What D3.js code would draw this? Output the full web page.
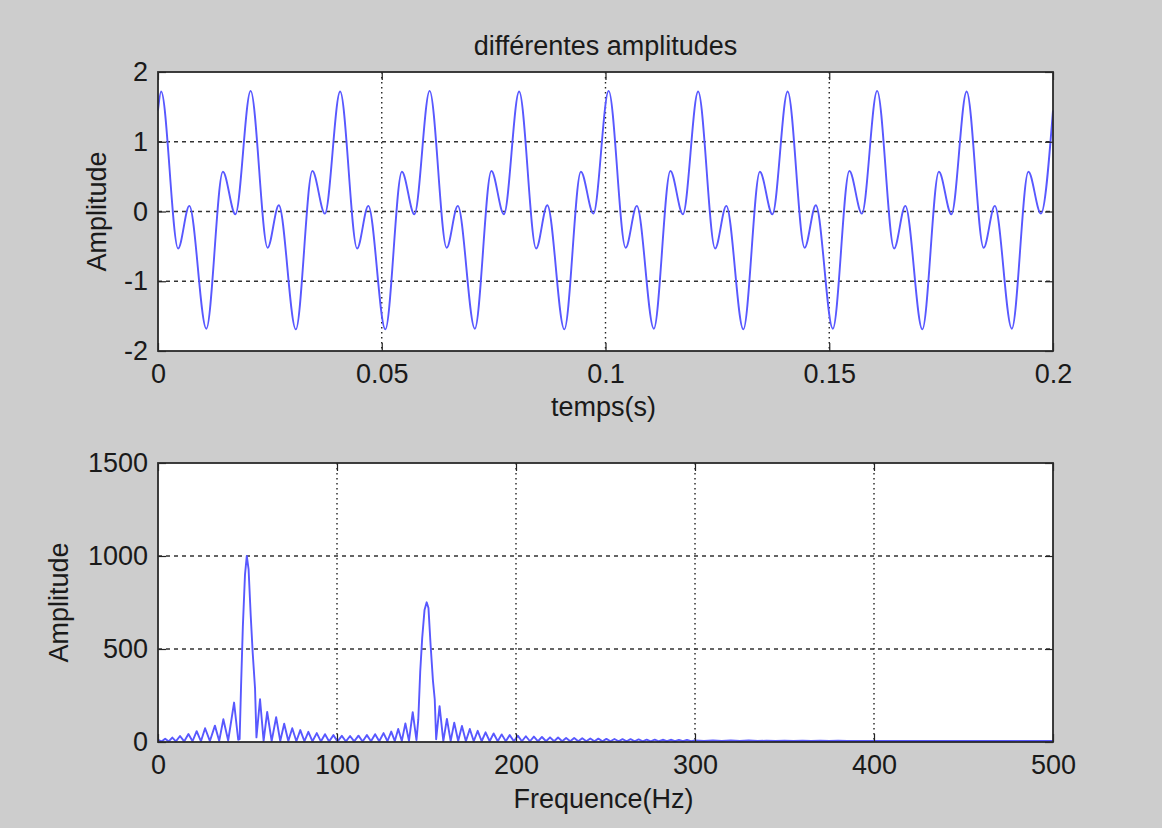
<!DOCTYPE html>
<html>
<head>
<meta charset="utf-8">
<script src="https://cdn.jsdelivr.net/npm/d3@7"></script>
<style>
  html, body { margin: 0; padding: 0; background: #cdcdcd; }
  svg text { font-family: "Liberation Sans", Arial, sans-serif; fill: #1a1a1a; }
</style>
</head>
<body>
<div id="example"></div>
<script>
// signal: local extrema (s, amplitude)
var timeS = [0,
    0.0007, 0.0045, 0.0070, 0.0108, 0.0145, 0.0173,
    0.0207, 0.0245, 0.0270, 0.0308, 0.0345, 0.0373,
    0.0407, 0.0445, 0.0470, 0.0508, 0.0545, 0.0573,
    0.0607, 0.0645, 0.0670, 0.0708, 0.0745, 0.0773,
    0.0807, 0.0845, 0.0870, 0.0908, 0.0945, 0.0973,
    0.1007, 0.1045, 0.1070, 0.1108, 0.1145, 0.1173,
    0.1207, 0.1245, 0.1270, 0.1308, 0.1345, 0.1373,
    0.1407, 0.1445, 0.1470, 0.1508, 0.1545, 0.1573,
    0.1607, 0.1645, 0.1670, 0.1708, 0.1745, 0.1773,
    0.1807, 0.1845, 0.1870, 0.1908, 0.1945, 0.1973,
    0.2];
var signalAmp = [1.45,
    1.72, -0.53, 0.08, -1.68, 0.57, -0.04,
    1.73, -0.52, 0.09, -1.69, 0.58, -0.03,
    1.72, -0.53, 0.08, -1.69, 0.57, -0.04,
    1.73, -0.52, 0.08, -1.68, 0.58, -0.04,
    1.72, -0.53, 0.09, -1.69, 0.57, -0.03,
    1.73, -0.52, 0.08, -1.68, 0.58, -0.04,
    1.72, -0.53, 0.08, -1.69, 0.57, -0.04,
    1.72, -0.52, 0.09, -1.68, 0.58, -0.03,
    1.73, -0.53, 0.08, -1.69, 0.57, -0.04,
    1.72, -0.52, 0.08, -1.68, 0.57, -0.03,
    1.45];

// spectrum: lobe tops and troughs (Hz, |X|)
var specHz = [0, 2, 4, 6, 8, 10, 12.3, 14.6, 17, 19.3, 21.6, 24, 26.3, 29, 31.8, 34.2, 36.5, 39.2, 42.5, 44.8,
    45.6, 46.4, 47.4, 48.6, 49.6, 50.6, 51.8, 52.9, 54.2, 55,
    57, 59, 61, 63.5, 66, 68.3, 70.5, 72.8, 75, 77.3, 79.5, 81.8, 84, 86.3, 88.7, 91, 93.3, 95.6, 98, 100.3,
    102.7, 105, 107.3, 109.6, 112, 114.3, 116.7, 119, 121.3, 123.6, 126, 128.2, 130.3, 132.3, 134.2, 136.2, 138.2, 140.2, 142.3, 144.4,
    145.4, 146.5, 147.6, 148.9, 150.1, 151.1, 152.3, 153.6, 154.6, 155.4,
    157.3, 159.4, 161.4, 163.5, 165.5, 167.7, 169.8, 172, 174.2, 176.4, 178.6, 180.8, 183, 185.3, 187.5, 189.8, 192, 194.3, 196.5, 198.8,
    201, 203.3, 205.5, 207.8, 210, 212.3, 214.5, 216.8, 219, 221.3, 223.5, 225.8, 228, 230.3, 232.5, 234.8, 237, 239.3, 241.5, 243.8,
    246, 248.3, 250.5, 252.8, 255, 257.3, 259.5, 261.8, 264, 266.3, 268.5, 270.8, 273, 275.3, 277.5, 279.8, 282, 284.3, 286.5, 288.8,
    291, 293.3, 295.5, 297.8,
    300, 305, 310, 315, 320, 325, 330, 335, 340, 345, 350, 355, 360, 365, 370, 375, 380, 385, 390, 395,
    400, 405, 410, 415, 420, 425, 430, 435, 440, 445, 450, 455, 460, 465, 470, 475, 480, 485, 490, 495, 500];
var specAmp = [12, 3, 18, 3, 24, 3, 32, 3, 43, 4, 58, 4, 74, 5, 88, 6, 122, 8, 212, 12,
    15, 300, 620, 900, 1000, 930, 680, 480, 290, 25,
    230, 6, 162, 5, 133, 5, 98, 5, 74, 4, 64, 4, 55, 4, 48, 3, 42, 3, 37, 3,
    33, 3, 32, 3, 34, 3, 37, 4, 42, 4, 48, 4, 56, 5, 70, 5, 100, 6, 160, 10,
    120, 380, 560, 710, 751, 720, 520, 330, 230, 15,
    193, 5, 124, 5, 104, 5, 86, 4, 70, 4, 60, 4, 52, 4, 46, 4, 41, 4, 37, 4,
    34, 4, 31, 4, 29, 4, 27, 4, 25, 4, 24, 4, 22, 4, 21, 4, 20, 4, 19, 4,
    18, 4, 17, 4, 16, 4, 15, 4, 15, 4, 14, 4, 13, 4, 13, 4, 12, 4, 12, 4,
    11, 4, 11, 5,
    9, 5, 8, 5, 8, 5, 8, 5, 7, 5, 7, 5, 7, 5, 7, 5, 7, 5, 6, 5,
    6, 5, 6, 5, 6, 5, 6, 5, 6, 5, 6, 5, 6, 5, 6, 5, 6, 5, 6, 5, 6];

var timeTicks = [0, 0.05, 0.1, 0.15, 0.2];
var ampTicks = [-2, -1, 0, 1, 2];
var freqTicks = [0, 100, 200, 300, 400, 500];
var magTicks = [0, 500, 1000, 1500];

(function () {

    var width = 1162,
        height = 828,
        left = 158,
        right = 1053,
        plain = function (d) { return String(d); };

    var svg = d3.select("#example").append("svg")
        .attr("width", width)
        .attr("height", height);

    svg.append("rect")
        .attr("width", width).attr("height", height)
        .style("fill", "#cdcdcd");

    function panel(cfg) {
        var x = d3.scaleLinear().domain(cfg.xDomain).range([left, right]),
            y = d3.scaleLinear().domain(cfg.yDomain).range([cfg.bottom, cfg.top]);

        var g = svg.append("g");

        g.append("rect")
            .attr("x", left).attr("y", cfg.top)
            .attr("width", right - left).attr("height", cfg.bottom - cfg.top)
            .style("fill", "#fff");

        // grid
        g.selectAll(".vgrid")
            .data(cfg.xTicks.slice(1, -1))
            .enter().append("line")
            .attr("x1", x).attr("x2", x)
            .attr("y1", cfg.top).attr("y2", cfg.bottom)
            .style("stroke", "#222")
            .style("stroke-width", 1.4)
            .style("stroke-dasharray", "1.5,3.5");

        g.selectAll(".hgrid")
            .data(cfg.yTicks.slice(1, -1))
            .enter().append("line")
            .attr("x1", left).attr("x2", right)
            .attr("y1", y).attr("y2", y)
            .style("stroke", "#333")
            .style("stroke-width", 1.3)
            .style("stroke-dasharray", "4,4");

        // data line
        var line = d3.line()
            .x(function (d) { return x(d[0]); })
            .y(function (d) { return y(d[1]); })
            .curve(cfg.curve);

        g.append("path")
            .datum(d3.zip(cfg.xs, cfg.ys))
            .attr("d", line)
            .style("fill", "none")
            .style("stroke", "#5858ff")
            .style("stroke-width", cfg.lineWidth)
            .style("stroke-linejoin", "round");

        // axes with inward ticks
        g.append("g")
            .attr("transform", "translate(0," + cfg.bottom + ")")
            .call(d3.axisBottom(x).tickValues(cfg.xTicks).tickFormat(plain)
                .tickSizeInner(-8).tickSizeOuter(0).tickPadding(13));
        g.append("g")
            .attr("transform", "translate(" + left + ",0)")
            .call(d3.axisLeft(y).tickValues(cfg.yTicks).tickFormat(plain)
                .tickSizeInner(-8).tickSizeOuter(0).tickPadding(10));
        g.append("g")
            .attr("transform", "translate(0," + cfg.top + ")")
            .call(d3.axisTop(x).tickValues(cfg.xTicks).tickFormat("")
                .tickSizeInner(-8).tickSizeOuter(0));
        g.append("g")
            .attr("transform", "translate(" + right + ",0)")
            .call(d3.axisRight(y).tickValues(cfg.yTicks).tickFormat("")
                .tickSizeInner(-8).tickSizeOuter(0));

        g.selectAll(".domain").remove();
        g.selectAll(".tick line").style("stroke", "#222").style("stroke-width", 1.2);
        g.selectAll(".tick text")
            .style("font-family", '"Liberation Sans", Arial, sans-serif')
            .style("font-size", "27px")
            .style("fill", "#1a1a1a");

        g.append("rect")
            .attr("x", left).attr("y", cfg.top)
            .attr("width", right - left).attr("height", cfg.bottom - cfg.top)
            .style("fill", "none")
            .style("stroke", "#2a2a2a")
            .style("stroke-width", 1.8);

        g.append("text")
            .attr("x", (left + right) / 2 - 2)
            .attr("y", cfg.xLabelY)
            .attr("text-anchor", "middle")
            .style("font-size", "27px")
            .text(cfg.xLabel);

        g.append("text")
            .attr("transform", "translate(" + cfg.yLabelX + "," + (cfg.top + cfg.bottom) / 2 + ") rotate(-90)")
            .attr("text-anchor", "middle")
            .style("font-size", "27px")
            .text("Amplitude");

        return g;
    }

    svg.append("text")
        .attr("x", (left + right) / 2)
        .attr("y", 55)
        .attr("text-anchor", "middle")
        .style("font-size", "27px")
        .text("différentes amplitudes");

    panel({
        top: 72, bottom: 351,
        xDomain: [0, 0.2], yDomain: [-2, 2],
        xTicks: timeTicks, yTicks: ampTicks,
        xs: timeS, ys: signalAmp,
        curve: d3.curveMonotoneX,
        lineWidth: 1.9,
        xLabel: "temps(s)", xLabelY: 416,
        yLabelX: 106
    });

    panel({
        top: 463, bottom: 742,
        xDomain: [0, 500], yDomain: [0, 1500],
        xTicks: freqTicks, yTicks: magTicks,
        xs: specHz, ys: specAmp,
        curve: d3.curveLinear,
        lineWidth: 1.9,
        xLabel: "Frequence(Hz)", xLabelY: 808,
        yLabelX: 68
    });

}());
</script>
</body>
</html>
